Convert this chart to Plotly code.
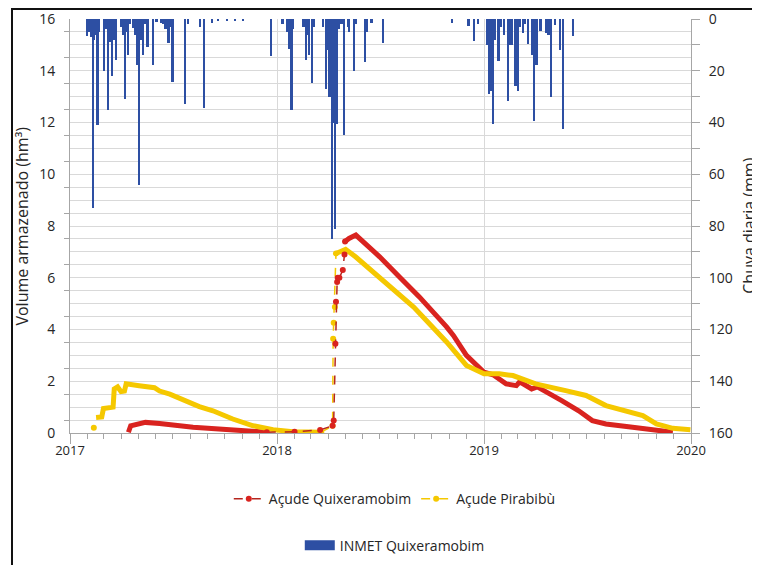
import plotly.graph_objects as go

# daily rainfall, INMET Quixeramobim (mm)
rain_dates = [
    '2017-01-31', '2017-02-04', '2017-02-08', '2017-02-11', '2017-02-13', '2017-02-16',
    '2017-02-19', '2017-02-22', '2017-03-02', '2017-03-05', '2017-03-10', '2017-03-13',
    '2017-03-16', '2017-03-19', '2017-03-23', '2017-04-02', '2017-04-05', '2017-04-08',
    '2017-04-11', '2017-04-14', '2017-04-17', '2017-04-23', '2017-04-27', '2017-04-30',
    '2017-05-03', '2017-05-06', '2017-05-10', '2017-05-14', '2017-05-18', '2017-05-28',
    '2017-06-03', '2017-06-11', '2017-06-15', '2017-06-19', '2017-06-24', '2017-06-27',
    '2017-07-01', '2017-07-23', '2017-07-29', '2017-08-19', '2017-08-26', '2017-09-09',
    '2017-09-20', '2017-10-05', '2017-10-20', '2017-11-02', '2017-12-22',
    '2018-01-11', '2018-01-19', '2018-01-22', '2018-01-27', '2018-01-30', '2018-02-17',
    '2018-02-22', '2018-02-25', '2018-02-27', '2018-03-04', '2018-03-08', '2018-03-23',
    '2018-03-29', '2018-04-01', '2018-04-04', '2018-04-08', '2018-04-10', '2018-04-13',
    '2018-04-15', '2018-04-17', '2018-04-21', '2018-04-25', '2018-04-30', '2018-05-06',
    '2018-05-09', '2018-05-17', '2018-05-21', '2018-06-05', '2018-06-09', '2018-06-17',
    '2018-07-07', '2018-11-06', '2018-12-05', '2018-12-15', '2018-12-22',
    '2019-01-07', '2019-01-10', '2019-01-13', '2019-01-17', '2019-01-20', '2019-01-27',
    '2019-02-01', '2019-02-06', '2019-02-13', '2019-02-17', '2019-02-20', '2019-02-26',
    '2019-03-02', '2019-03-06', '2019-03-11', '2019-03-15', '2019-03-20', '2019-03-27',
    '2019-03-31', '2019-04-04', '2019-04-11', '2019-04-21', '2019-04-25', '2019-04-29',
    '2019-05-07', '2019-05-16', '2019-05-21', '2019-06-08',
]
rain_mm = [
    6.7, 5, 7, 73, 8, 6,
    41, 5, 20, 4, 35, 9,
    22, 8, 15.8, 3, 6, 31,
    5, 14, 2, 3.6, 6, 17.7,
    64, 8, 14, 2, 11, 17.7,
    1, 1.5, 2, 4, 9.3, 3,
    24.5, 33, 2, 3, 34.5, 1.5,
    0.5, 0.8, 0.5, 0.6, 14.3,
    2, 5, 11.6, 35, 4, 3,
    16, 6, 14, 24.8, 3, 3,
    27, 12, 30, 85, 40, 81,
    20, 40.7, 4, 2, 45, 3,
    5, 20, 2, 16.8, 5, 1.5,
    9.3, 1.5, 2.8, 8.6, 2,
    10, 29, 28, 40.7, 8, 16.4,
    3, 6, 31.7, 10, 10, 26,
    27.8, 3, 5.5, 2, 9.8, 13.8,
    39.6, 17.7, 4.7, 5.5, 6, 30,
    2.5, 11.9, 42.6, 6.7,
]

# Açude Quixeramobim (hm3)
quix_dates = [
    '2017-04-14', '2017-04-18', '2017-05-14', '2017-06-08', '2017-08-06', '2017-10-04',
    '2017-12-14', None,
    '2018-05-01', '2018-05-08', '2018-05-20', '2018-07-01', '2018-08-05', '2018-09-09',
    '2018-10-27', '2018-11-08', '2018-12-01', '2019-01-01', '2019-01-17', '2019-02-09',
    '2019-02-27', '2019-03-05', '2019-03-26', '2019-04-05', '2019-05-18', '2019-06-17',
    '2019-07-11', '2019-08-04', '2019-09-20', '2019-10-26', '2019-11-30',
]
quix_vol = [
    0.03, 0.28, 0.41, 0.37, 0.22, 0.13,
    0.03, None,
    7.4, 7.52, 7.65, 6.81, 6.03, 5.26,
    4.1, 3.77, 3.0, 2.35, 2.25, 1.9,
    1.83, 1.98, 1.7, 1.78, 1.25, 0.86,
    0.48, 0.35, 0.22, 0.12, 0.03,
]
quix_gap_dates = [
    '2017-12-14', '2018-02-01', '2018-03-18', '2018-04-09', '2018-04-11', '2018-04-14',
    '2018-04-15', '2018-04-17', '2018-04-18', '2018-04-21', '2018-04-27', '2018-04-30',
    '2018-05-01',
]
quix_gap_vol = [0.03, 0.05, 0.12, 0.28, 0.48, 3.45, 5.07, 5.84, 6.0, 6.0, 6.3, 6.9, 7.4]

# Açude Pirabibù (hm3)
pira_dates = [
    '2017-02-16', '2017-02-26', '2017-03-01', '2017-03-18', '2017-03-20', '2017-03-26',
    '2017-04-01', '2017-04-07', '2017-04-10', '2017-04-20', '2017-05-03', '2017-05-30',
    '2017-06-08', '2017-06-26', '2017-07-24', '2017-08-17', '2017-09-10', '2017-10-15',
    '2017-11-20', '2017-12-25', '2018-01-29', '2018-03-20', None,
    '2018-04-15', '2018-04-25', '2018-05-02', '2018-05-20', '2018-07-01', '2018-08-30',
    '2018-10-27', '2018-12-01', '2019-01-01', '2019-01-28', '2019-02-21', '2019-04-02',
    '2019-05-25', '2019-06-30', '2019-08-04', '2019-09-09', '2019-10-08', '2019-11-01',
    '2019-11-30', '2019-12-31',
]
pira_vol = [
    0.6, 0.62, 0.95, 1.0, 1.7, 1.78,
    1.6, 1.62, 1.9, 1.88, 1.83, 1.75,
    1.62, 1.5, 1.25, 1.02, 0.86, 0.54,
    0.28, 0.13, 0.05, 0.03, None,
    6.94, 7.05, 7.1, 6.8, 6.03, 4.87,
    3.52, 2.61, 2.29, 2.29, 2.22, 1.9,
    1.64, 1.45, 1.06, 0.86, 0.67, 0.35,
    0.18, 0.13,
]
pira_gap_dates = ['2017-02-12', None, '2018-03-20', '2018-04-09', '2018-04-10', '2018-04-11',
                  '2018-04-13', '2018-04-15']
pira_gap_vol = [0.2, None, 0.03, 0.28, 3.64, 4.26, 4.87, 6.94]

RED = '#D9231F'
YELLOW = '#F5C800'
BLUE = '#2D4FA3'
FONT = 'Open Sans'

fig = go.Figure()

fig.add_trace(go.Bar(
    x=rain_dates, y=rain_mm, yaxis='y2', name='INMET Quixeramobim',
    marker=dict(color=BLUE, line=dict(width=0)), width=86400000 * 3,
    showlegend=False,
))
# legend entry for the rainfall (wide blue swatch like the original)
fig.add_trace(go.Scatter(
    x=[None], y=[None], yaxis='y2', mode='lines', name='INMET Quixeramobim',
    line=dict(color=BLUE, width=14), legend='legend2', hoverinfo='skip',
))

# thick curves (dense daily points in the original)
fig.add_trace(go.Scatter(
    x=quix_dates, y=quix_vol, mode='lines', line=dict(color=RED, width=5),
    showlegend=False, connectgaps=False,
))
fig.add_trace(go.Scatter(
    x=pira_dates, y=pira_vol, mode='lines', line=dict(color=YELLOW, width=5),
    showlegend=False, connectgaps=False,
))
fig.add_trace(go.Scatter(
    x=pira_gap_dates, y=pira_gap_vol, mode='lines+markers', name='Açude Pirabibù',
    line=dict(color=YELLOW, width=1.5, dash='dash'), marker=dict(color=YELLOW, size=6),
    connectgaps=False, legendrank=2,
))
fig.add_trace(go.Scatter(
    x=quix_gap_dates, y=quix_gap_vol, mode='lines+markers', name='Açude Quixeramobim',
    line=dict(color='#B5261E', width=1.5, dash='dash'), marker=dict(color=RED, size=6),
    legendrank=1,
))
# carrier for the half-unit tick marks on the left axis
fig.add_trace(go.Scatter(x=[None], y=[None], yaxis='y3', showlegend=False, hoverinfo='skip'))

grid = '#D9D9D9'
axcol = '#A6A6A6'
txt = '#262626'

# the page body adds an 8px offset, so margins are set 8px smaller on top/left
fig.update_layout(
    width=760, height=565,
    margin=dict(l=62, r=77, t=11, b=140, autoexpand=False),
    paper_bgcolor='white', plot_bgcolor='white',
    font=dict(family=FONT, size=14, color=txt),
    bargap=0,
    xaxis=dict(
        type='date', range=['2017-01-01', '2020-01-01'], automargin=False,
        dtick='M12', tick0='2017-01-01', tickformat='%Y',
        showgrid=True, gridcolor=grid, gridwidth=1,
        showline=True, linecolor=axcol, linewidth=1,
        ticks='outside', ticklen=10, tickcolor=axcol, ticklabelstandoff=-5,
        minor=dict(dtick='M1', ticks='outside', ticklen=5, tickcolor=axcol, showgrid=False),
        tickfont=dict(size=13),
        zeroline=False,
    ),
    yaxis=dict(
        range=[0, 16], dtick=2, tick0=0, automargin=False,
        showgrid=True, gridcolor=grid, gridwidth=1,
        minor=dict(dtick=0.5, showgrid=True, gridcolor=grid, ticks=''),
        showline=True, linecolor=axcol, linewidth=1,
        ticks='', ticklabelstandoff=11,
        zeroline=False,
    ),
    yaxis2=dict(
        overlaying='y', side='right', range=[160, 0], automargin=False,
        dtick=20, tick0=0, showgrid=False,
        showline=True, linecolor=axcol, linewidth=1,
        ticks='outside', ticklen=8, tickcolor=axcol,
        minor=dict(dtick=10, ticks='outside', ticklen=8, tickcolor=axcol, showgrid=False),
        zeroline=False, ticklabelstandoff=6,
    ),
    yaxis3=dict(
        overlaying='y', side='left', range=[0, 16], anchor='x', automargin=False,
        tickvals=[i + 0.5 for i in range(16)], ticks='outside', ticklen=5,
        tickcolor=axcol, showticklabels=False, showgrid=False, showline=False,
        zeroline=False,
    ),
    legend=dict(
        orientation='h', x=0.523, xanchor='center', y=-0.16, yanchor='middle',
        font=dict(size=14, color=txt), bgcolor='rgba(0,0,0,0)', traceorder='normal',
    ),
    legend2=dict(
        orientation='h', x=0.523, xanchor='center', y=-0.272, yanchor='middle',
        font=dict(size=14, color=txt), bgcolor='rgba(0,0,0,0)',
    ),
    annotations=[
        dict(text='Volume armazenado (hm³)', xref='paper', yref='paper', x=-0.078, y=0.5,
             textangle=-90, showarrow=False, font=dict(size=16, color=txt),
             xanchor='center', yanchor='middle'),
        dict(text='Chuva diaria (mm)', xref='paper', yref='paper', x=1.093, y=0.5,
             textangle=-90, showarrow=False, font=dict(size=16, color=txt),
             xanchor='center', yanchor='middle'),
    ],
    shapes=[dict(
        type='rect', xref='paper', yref='paper',
        x0=-0.0934, x1=1.3, y0=-0.6, y1=1.024,
        line=dict(color='#111111', width=2), fillcolor='rgba(0,0,0,0)', layer='above',
    )],
)

fig.write_html("out.html")
